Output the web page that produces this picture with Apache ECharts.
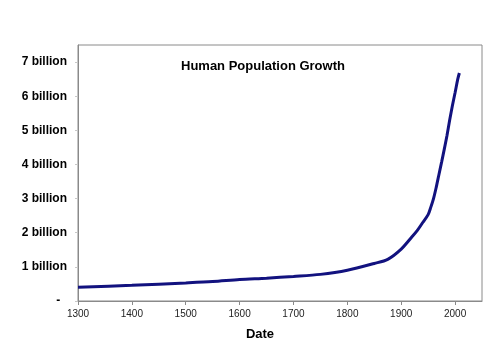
<!DOCTYPE html>
<html>
<head>
<meta charset="utf-8">
<style>html,body{margin:0;padding:0;background:#fff}#c{width:500px;height:357px}</style>
<script src="https://cdn.jsdelivr.net/npm/echarts@6/dist/echarts.min.js"></script>
</head>
<body>
<div id="c"></div>
<script>
// Year of each reading
var years = [1300, 1400, 1500, 1550, 1600, 1650, 1700, 1750, 1800, 1850, 1875, 1900, 1920, 1930, 1940, 1950, 1955, 1960, 1965, 1970, 1975, 1980, 1985, 1990, 1995, 2000, 2005, 2008];
// World population, billions
var population = [0.40, 0.46, 0.53, 0.57, 0.63, 0.67, 0.72, 0.78, 0.90, 1.10, 1.22, 1.52, 1.88, 2.07, 2.30, 2.53, 2.75, 3.00, 3.33, 3.70, 4.07, 4.45, 4.85, 5.30, 5.72, 6.10, 6.50, 6.68];
var chartTitle = "Human Population Growth";
var xName = "Date";

var chart = echarts.init(document.getElementById('c'), null, {renderer: 'canvas'});
var data = years.map(function (y, i) { return [y, population[i]]; });
chart.setOption({
  animation: false,
  backgroundColor: '#fff',
  title: {
    text: chartTitle,
    left: 181, top: 60, padding: 0,
    textStyle: {fontFamily: 'Liberation Sans', fontSize: 13, fontWeight: 'bold', color: '#000'}
  },
  grid: {left: 78, right: 18, top: 45, bottom: 56, show: true, borderColor: '#8a8a8a', borderWidth: 1, backgroundColor: 'transparent'},
  xAxis: {
    type: 'value', min: 1300, max: 2050, interval: 100,
    name: xName, nameLocation: 'middle', nameGap: 27,
    nameTextStyle: {fontFamily: 'Liberation Sans', fontSize: 13, fontWeight: 'bold', color: '#000', padding: [0, 40, 0, 0]},
    axisLine: {show: true, lineStyle: {color: '#8a8a8a', width: 1}},
    axisTick: {show: true, length: 4, lineStyle: {color: '#8a8a8a'}},
    axisLabel: {showMaxLabel: false, fontFamily: 'Liberation Sans', fontSize: 10, color: '#222', margin: 8,
      formatter: function (v) { return String(v); }},
    splitLine: {show: false}
  },
  yAxis: {
    type: 'value', min: 0, max: 7.5, interval: 1,
    axisLine: {show: true, lineStyle: {color: '#8a8a8a', width: 1}},
    axisTick: {show: true, length: 3, lineStyle: {color: '#c8c8c8'}},
    axisLabel: {
      showMaxLabel: false, fontFamily: 'Liberation Sans', fontSize: 12, fontWeight: 'bold', color: '#000', margin: 11,
      formatter: function (v) { return v === 0 ? '-  ' : v + ' billion'; }
    },
    splitLine: {show: false}
  },
  series: [{
    type: 'line', data: data, showSymbol: false, smooth: 0.3,
    lineStyle: {color: '#12127f', width: 3}
  }]
});
</script>
</body>
</html>
